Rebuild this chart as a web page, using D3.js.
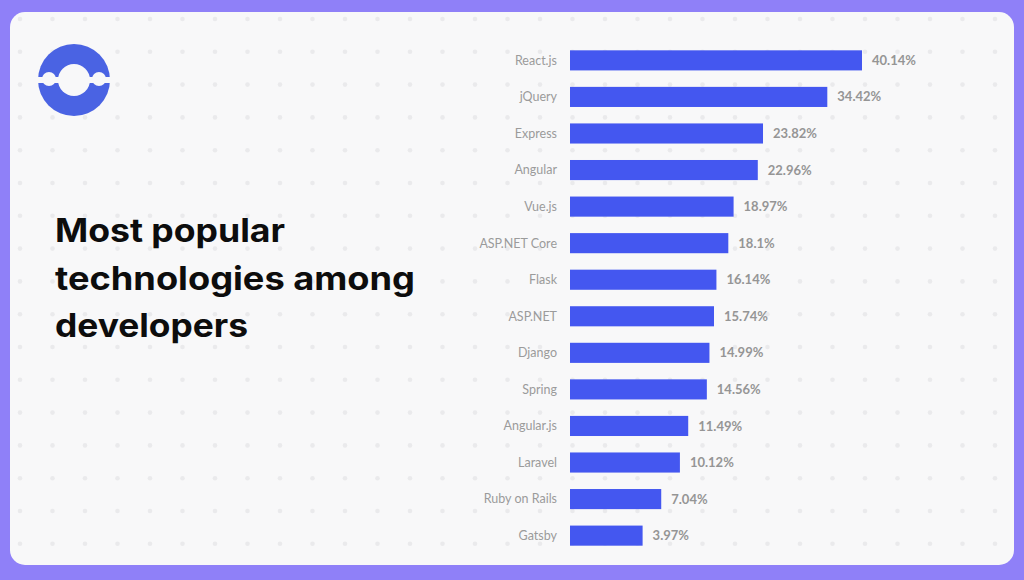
<!DOCTYPE html>
<html>
<head>
<meta charset="utf-8">
<script src="https://cdn.jsdelivr.net/npm/d3@7"></script>
<style>
html,body{margin:0;padding:0;background:#8f80f8;}
svg{display:block;}
</style>
</head>
<body>
<svg id="chart" width="1024" height="580"></svg>
<script>
const categories = ["React.js","jQuery","Express","Angular","Vue.js","ASP.NET Core","Flask","ASP.NET","Django","Spring","Angular.js","Laravel","Ruby on Rails","Gatsby"];
const values = [40.14,34.42,23.82,22.96,18.97,18.1,16.14,15.74,14.99,14.56,11.49,10.12,7.04,3.97];
const valueLabels = ["40.14%","34.42%","23.82%","22.96%","18.97%","18.1%","16.14%","15.74%","14.99%","14.56%","11.49%","10.12%","7.04%","3.97%"];
const titleLines = ["Most popular","technologies among","developers"];

const svg = d3.select("#chart");
const W = 1024, H = 580;

// purple frame
svg.append("rect").attr("width",W).attr("height",H).attr("fill","#8f80f8");
// card
svg.append("rect").attr("x",10).attr("y",12).attr("width",1004).attr("height",553)
  .attr("rx",15).attr("fill","#f8f8f9");

// dot grid
const clip = svg.append("defs").append("clipPath").attr("id","cardclip");
clip.append("rect").attr("x",10).attr("y",12).attr("width",1004).attr("height",553).attr("rx",15);
const dots = [];
for (let gx = 20; gx < 1014; gx += 32.5) for (let gy = 19; gy < 565; gy += 32.8) dots.push([gx,gy]);
svg.append("g").attr("clip-path","url(#cardclip)").selectAll("circle").data(dots).join("circle")
  .attr("cx",d=>d[0]).attr("cy",d=>d[1]).attr("r",2.3).attr("fill","#eaeaec");

// logo
const logo = svg.append("g");
logo.append("circle").attr("cx",74).attr("cy",80).attr("r",36).attr("fill","#4a63e3");
logo.append("circle").attr("cx",74).attr("cy",80).attr("r",16).attr("fill","#f8f8f9");
logo.append("rect").attr("x",36).attr("y",77).attr("width",76).attr("height",6).attr("fill","#f8f8f9");
logo.append("circle").attr("cx",49).attr("cy",79).attr("r",7).attr("fill","#f8f8f9");
logo.append("circle").attr("cx",99).attr("cy",79).attr("r",7).attr("fill","#f8f8f9");

// title
const titleWidths = [230,360,193];
svg.append("g").selectAll("text").data(titleLines).join("text")
  .attr("x",55).attr("y",(d,i)=>242 + i*47.5)
  .attr("font-family","Inter, 'Noto Sans', sans-serif").attr("font-weight",700)
  .attr("font-size",32).attr("fill","#0d0d0d")
  .attr("textLength",(d,i)=>titleWidths[i]).attr("lengthAdjust","spacingAndGlyphs")
  .text(d=>d);

// bars
const x = d3.scaleLinear().domain([-8, 40.14]).range([570, 862]);
const y = d3.scaleBand().domain(categories).range([43, 553]).paddingInner(0.45).paddingOuter(0.2);

const g = svg.append("g");
g.selectAll("rect.bar").data(values).join("rect").attr("class","bar")
  .attr("x",x(-8)).attr("y",(d,i)=>y(categories[i]))
  .attr("width",d=>x(d)-x(-8)).attr("height",y.bandwidth())
  .attr("fill","#4457f0");

g.selectAll("text.cat").data(categories).join("text").attr("class","cat")
  .attr("x",557).attr("y",d=>y(d)+y.bandwidth()/2).attr("dy","0.35em")
  .attr("text-anchor","end").attr("font-family","Lato, 'Open Sans', sans-serif")
  .attr("font-size",12.5).attr("fill","#9b9b9b").text(d=>d);

g.selectAll("text.val").data(values).join("text").attr("class","val")
  .attr("x",d=>x(d)+10).attr("y",(d,i)=>y(categories[i])+y.bandwidth()/2).attr("dy","0.35em")
  .attr("font-family","Lato, 'Open Sans', sans-serif").attr("font-weight",700)
  .attr("font-size",13).attr("fill","#959595").text((d,i)=>valueLabels[i]);
</script>
</body>
</html>
